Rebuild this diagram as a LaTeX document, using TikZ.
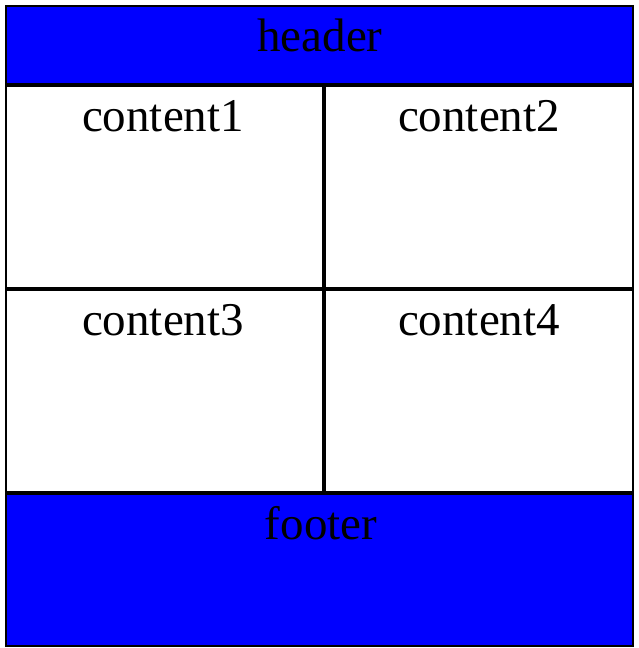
\documentclass[tikz,border=0pt]{standalone}
\usepackage{fontspec}
\setmainfont{Liberation Serif}
\begin{document}
\begin{tikzpicture}[x=1pt,y=-1pt,
  lbl/.style={anchor=base, inner sep=0pt, font=\fontsize{47}{56}\selectfont},
  band/.style={fill=blue, draw=none},
  divider/.style={draw=black, line width=3.4pt},
  frame/.style={draw=black, line width=2pt}]
\useasboundingbox (0,0) rectangle (639,648);
% bands
\path[band] (6,6) rectangle (633,85);
\path[band] (6,493) rectangle (633,646);
% corner coordinates
\coordinate (tl) at (6,6);
\coordinate (br) at (633,646);
\coordinate (hl) at (6,85);   \coordinate (hr) at (633,85);
\coordinate (ml) at (6,289);  \coordinate (mr) at (633,289);
\coordinate (fl) at (6,493);  \coordinate (fr) at (633,493);
\coordinate (vt) at (324,85); \coordinate (vb) at (324,493);
% dividers
\draw[divider] (hl) -- (hr);
\draw[divider] (ml) -- (mr);
\draw[divider] (fl) -- (fr);
\draw[divider] (vt) -- (vb);
\draw[frame] (tl) rectangle (br);
% labels
\node[lbl] (header) at (320,51.5) {header};
\node[lbl] (c1) at (163,131.5) {content1};
\node[lbl] (c2) at (479,131.5) {content2};
\node[lbl] (c3) at (163,335.5) {content3};
\node[lbl] (c4) at (479,335.5) {content4};
\node[lbl] (footer) at (321,539.5) {footer};
\end{tikzpicture}
\end{document}
